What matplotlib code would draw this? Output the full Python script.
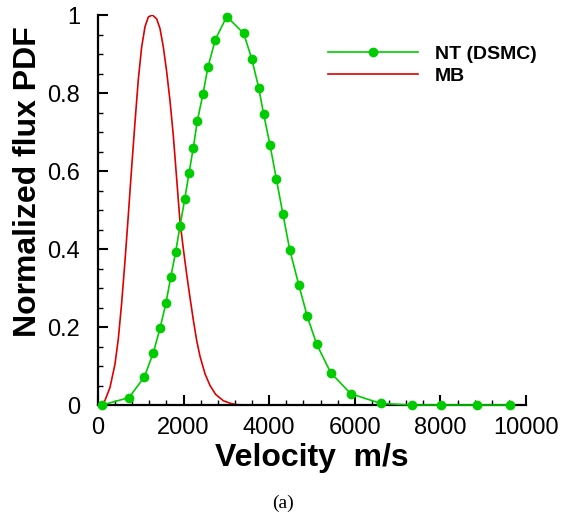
import matplotlib
matplotlib.use('Agg')
import matplotlib.pyplot as plt
from matplotlib.ticker import MultipleLocator, FuncFormatter

# NT (DSMC) symbols
nt_v = [100, 724, 1083, 1293, 1449, 1589, 1698, 1815, 1916, 2025, 2126, 2227,
        2320, 2453, 2570, 2741, 3007, 3404, 3591, 3754, 3871, 4019, 4166, 4320,
        4480, 4689, 4890, 5109, 5436, 5904, 6605, 7329, 8021, 8862, 9619]
nt_pdf = [0.0, 0.019, 0.072, 0.134, 0.197, 0.262, 0.327, 0.393, 0.459, 0.527,
          0.594, 0.660, 0.728, 0.798, 0.867, 0.937, 0.996, 0.953, 0.888, 0.814,
          0.745, 0.667, 0.580, 0.490, 0.398, 0.309, 0.227, 0.156, 0.083, 0.029,
          0.004, 0.0, 0.0, 0.0, 0.0]

# MB curve
mb_v = [0, 100, 164, 280, 397, 475, 553, 631, 709, 787, 864, 942, 1020, 1098,
        1176, 1270, 1371, 1449, 1526, 1604, 1682, 1760, 1838, 1916, 1994, 2072,
        2150, 2227, 2306, 2383, 2500, 2617, 2750, 2928, 3100, 3240, 3500, 10000]
mb_pdf = [0.0, 0.002, 0.012, 0.045, 0.105, 0.17, 0.262, 0.37, 0.488, 0.61,
          0.725, 0.835, 0.918, 0.97, 0.995, 1.0, 0.99, 0.965, 0.918, 0.855,
          0.78, 0.69, 0.58, 0.47, 0.40, 0.335, 0.275, 0.218, 0.165, 0.125,
          0.08, 0.05, 0.027, 0.011, 0.004, 0.001, 0.0, 0.0]

plt.rcParams['font.family'] = ['Liberation Sans', 'DejaVu Sans']

fig = plt.figure(figsize=(5.61, 5.16), dpi=100)
ax = fig.add_axes([0.1747, 0.2151, 0.7629, 0.7558])

green = '#00cc00'
red = '#dd0000'
ax.plot(nt_v, nt_pdf, color=green, lw=1.2, marker='o', ms=6,
        mec=green, mfc=green, label='NT (DSMC)', clip_on=False, zorder=3)
ax.plot(mb_v, mb_pdf, color=red, lw=1.2, label='MB', zorder=2)

ax.set_xlim(0, 10000)
ax.set_ylim(0, 1)
ax.xaxis.set_major_locator(MultipleLocator(2000))
ax.xaxis.set_minor_locator(MultipleLocator(400))
ax.yaxis.set_major_locator(MultipleLocator(0.2))
ax.yaxis.set_minor_locator(MultipleLocator(0.05))
ax.yaxis.set_major_formatter(FuncFormatter(lambda v, p: '%g' % round(v, 2)))

for s in ['top', 'right']:
    ax.spines[s].set_visible(False)
for s in ['left', 'bottom']:
    ax.spines[s].set_linewidth(1.6)

ax.tick_params(which='major', direction='in', length=7, width=1.5, labelsize=17)
ax.tick_params(axis='x', which='major', pad=8.4)
ax.tick_params(axis='y', which='major', pad=13)
ax.tick_params(which='minor', direction='in', length=3.6, width=1.0)

ax.set_xlabel('Velocity  m/s', fontsize=23, fontweight='bold')
ax.set_ylabel('Normalized flux PDF', fontsize=23, fontweight='bold')
ax.xaxis.set_label_coords(0.5, -0.098)
ax.yaxis.set_label_coords(-0.128, 0.572)

ax.legend(loc='center left', bbox_to_anchor=(328 / 561, 1 - 65 / 516),
          bbox_transform=fig.transFigure, frameon=False, borderpad=0,
          borderaxespad=0, handlelength=90 / 19.4, handletextpad=0.85,
          labelspacing=0.25, prop={'size': 14, 'weight': 'bold'})

fig.text(283 / 561, 1 - 503 / 516, '(a)', ha='center', va='center',
         fontsize=14, family='Liberation Serif')

fig.savefig('out.png', dpi=100)
